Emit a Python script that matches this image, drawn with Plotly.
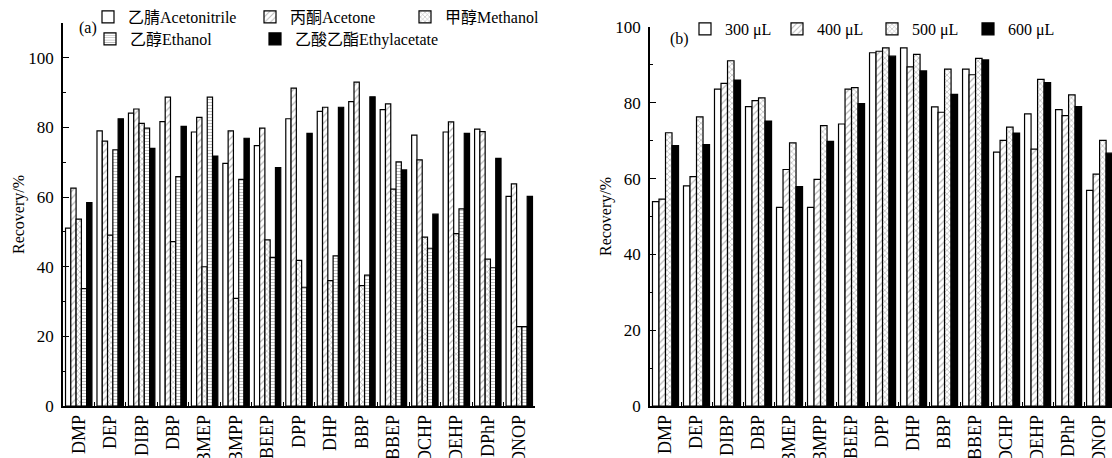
import plotly.graph_objects as go

categories = ["DMP", "DEP", "DIBP", "DBP", "BMEP", "BMPP", "BEEP", "DPP",
              "DHP", "BBP", "BBEP", "DCHP", "DEHP", "DPhP", "DNOP"]

# Panel (a): extraction solvents
acetonitrile = [51.1, 79.0, 84.1, 81.7, 78.7, 69.7, 74.8, 82.5, 84.6, 87.4, 85.1, 77.8, 78.7, 79.5, 60.2]
acetone      = [62.6, 76.1, 85.3, 88.7, 82.9, 79.0, 79.8, 91.3, 85.8, 93.0, 86.8, 70.7, 81.6, 78.8, 63.8]
methanol     = [53.7, 49.1, 81.2, 47.2, 40.0, 30.9, 47.7, 41.8, 36.0, 34.6, 62.3, 48.5, 49.5, 42.2, 22.8]
ethanol      = [33.7, 73.6, 79.8, 65.9, 88.7, 65.1, 42.7, 34.1, 43.1, 37.6, 70.1, 45.3, 56.6, 39.7, 22.8]
ethylacetate = [58.4, 82.5, 74.0, 80.3, 71.8, 76.9, 68.5, 78.3, 85.8, 88.8, 67.8, 55.1, 78.3, 71.1, 60.2]

# Panel (b): extraction volumes
v300 = [53.9, 58.1, 83.6, 79.0, 52.4, 52.4, 74.4, 93.2, 94.5, 78.9, 88.9, 67.0, 77.1, 78.2, 56.9]
v400 = [54.6, 60.5, 85.1, 80.6, 62.4, 59.8, 83.6, 93.6, 89.5, 77.5, 87.4, 70.1, 67.8, 76.6, 61.2]
v500 = [72.1, 76.3, 91.1, 81.3, 69.4, 74.0, 84.0, 94.5, 92.8, 88.9, 91.7, 73.6, 86.2, 82.1, 70.1]
v600 = [68.7, 69.0, 86.0, 75.2, 57.9, 69.8, 79.8, 92.3, 88.4, 82.2, 91.3, 72.0, 85.3, 79.0, 66.7]

FONT = "Liberation Serif, Noto Serif CJK SC, Noto Sans CJK SC, serif"
CJK_SPAN = '<span style="font-family:Noto Sans CJK SC">{}</span>'
OUTLINE = dict(color="black", width=1.2)

STYLE_WHITE = dict(color="white", line=OUTLINE)
STYLE_DIAG = dict(color="white", line=OUTLINE,
                  pattern=dict(shape="/", fgcolor="#707070", bgcolor="white", size=5, solidity=0.25))
STYLE_CROSS = dict(color="white", line=OUTLINE,
                   pattern=dict(shape="x", fgcolor="#606060", bgcolor="white", size=4, solidity=0.3))
STYLE_HORIZ = dict(color="white", line=OUTLINE,
                   pattern=dict(shape="-", fgcolor="#808080", bgcolor="white", size=3, solidity=0.35))
STYLE_BLACK = dict(color="black", line=OUTLINE)

fig = go.Figure()

left_series = [
    ("乙腈", "Acetonitrile", acetonitrile, STYLE_WHITE, "legend", 117),
    ("丙酮", "Acetone", acetone, STYLE_DIAG, "legend", 110),
    ("甲醇", "Methanol", methanol, STYLE_CROSS, "legend", 110),
    ("乙醇", "Ethanol", ethanol, STYLE_HORIZ, "legend2", 120),
    ("乙酸乙酯", "Ethylacetate", ethylacetate, STYLE_BLACK, "legend2", 150),
]
for zh, en, vals, style, leg, lw in left_series:
    fig.add_trace(go.Bar(x=categories, y=vals, name=CJK_SPAN.format(zh) + en, marker=style,
                         xaxis="x", yaxis="y", legend=leg, legendwidth=lw))

right_series = [
    ("300 μL", v300, STYLE_WHITE, 47),
    ("400 μL", v400, STYLE_DIAG, 50),
    ("500 μL", v500, STYLE_CROSS, 51),
    ("600 μL", v600, STYLE_BLACK, 51),
]
for name, vals, style, lw in right_series:
    fig.add_trace(go.Bar(x=categories, y=vals, name=name, marker=style,
                         xaxis="x2", yaxis="y2", legend="legend3", legendwidth=lw))

W, H = 1112, 458
ybot = (H - 406) / H

xcommon = dict(type="category", showline=True, linecolor="black", linewidth=1.5,
               ticks="inside", tickson="boundaries", ticklen=4, tickwidth=1.2, tickcolor="black",
               tickangle=-90, tickfont=dict(family=FONT, size=18, color="black"),
               showgrid=False, zeroline=False, automargin=False, fixedrange=True)
ycommon = dict(showline=True, linecolor="black", linewidth=1.5,
               ticks="inside", ticklen=6, tickwidth=1.2, tickcolor="black", dtick=20, tick0=0,
               minor=dict(ticks="inside", ticklen=3, dtick=10, tickcolor="black", tickwidth=1.2, showgrid=False),
               tickfont=dict(family=FONT, size=17, color="black"),
               title=dict(text="Recovery/%", font=dict(family=FONT, size=16, color="black"), standoff=0),
               showgrid=False, zeroline=False, automargin=False, fixedrange=True, ticklabelstandoff=4)

fig.update_layout(
    width=W, height=H,
    margin=dict(l=0, r=0, t=0, b=0),
    paper_bgcolor="white", plot_bgcolor="white",
    barmode="group", bargap=0.16, bargroupgap=0,
    font=dict(family=FONT, size=16, color="black"),
    xaxis=dict(domain=[63 / W, 535 / W], range=[-0.5, 14.5], anchor="y", **xcommon),
    xaxis2=dict(domain=[650 / W, 1.0], range=[-0.5, 14.4], anchor="y2", **xcommon),
    yaxis=dict(domain=[ybot, (H - 23) / H], range=[0, 110], anchor="x", **ycommon),
    yaxis2=dict(domain=[ybot, (H - 27) / H], range=[0, 100], anchor="x2", **ycommon),
    legend=dict(orientation="h", x=88 / W, xanchor="left", y=1.0, yanchor="top",
                font=dict(family=FONT, size=16, color="black"), bgcolor="rgba(0,0,0,0)",
                entrywidthmode="pixels", tracegroupgap=0),
    legend2=dict(orientation="h", x=90 / W, xanchor="left", y=1 - 22 / H, yanchor="top",
                 font=dict(family=FONT, size=16, color="black"), bgcolor="rgba(0,0,0,0)",
                 entrywidthmode="pixels"),
    legend3=dict(orientation="h", x=685 / W, xanchor="left", y=1 - 12 / H, yanchor="top",
                 font=dict(family=FONT, size=16, color="black"), bgcolor="rgba(0,0,0,0)",
                 entrywidthmode="pixels"),
    annotations=[
        dict(text="(a)", x=77 / W, y=1 - 17 / H, xref="paper", yref="paper",
             showarrow=False, font=dict(family=FONT, size=16, color="black")),
        dict(text="(b)", x=679 / W, y=1 - 28 / H, xref="paper", yref="paper",
             showarrow=False, font=dict(family=FONT, size=16, color="black")),
    ],
)

fig.write_html("out.html")
